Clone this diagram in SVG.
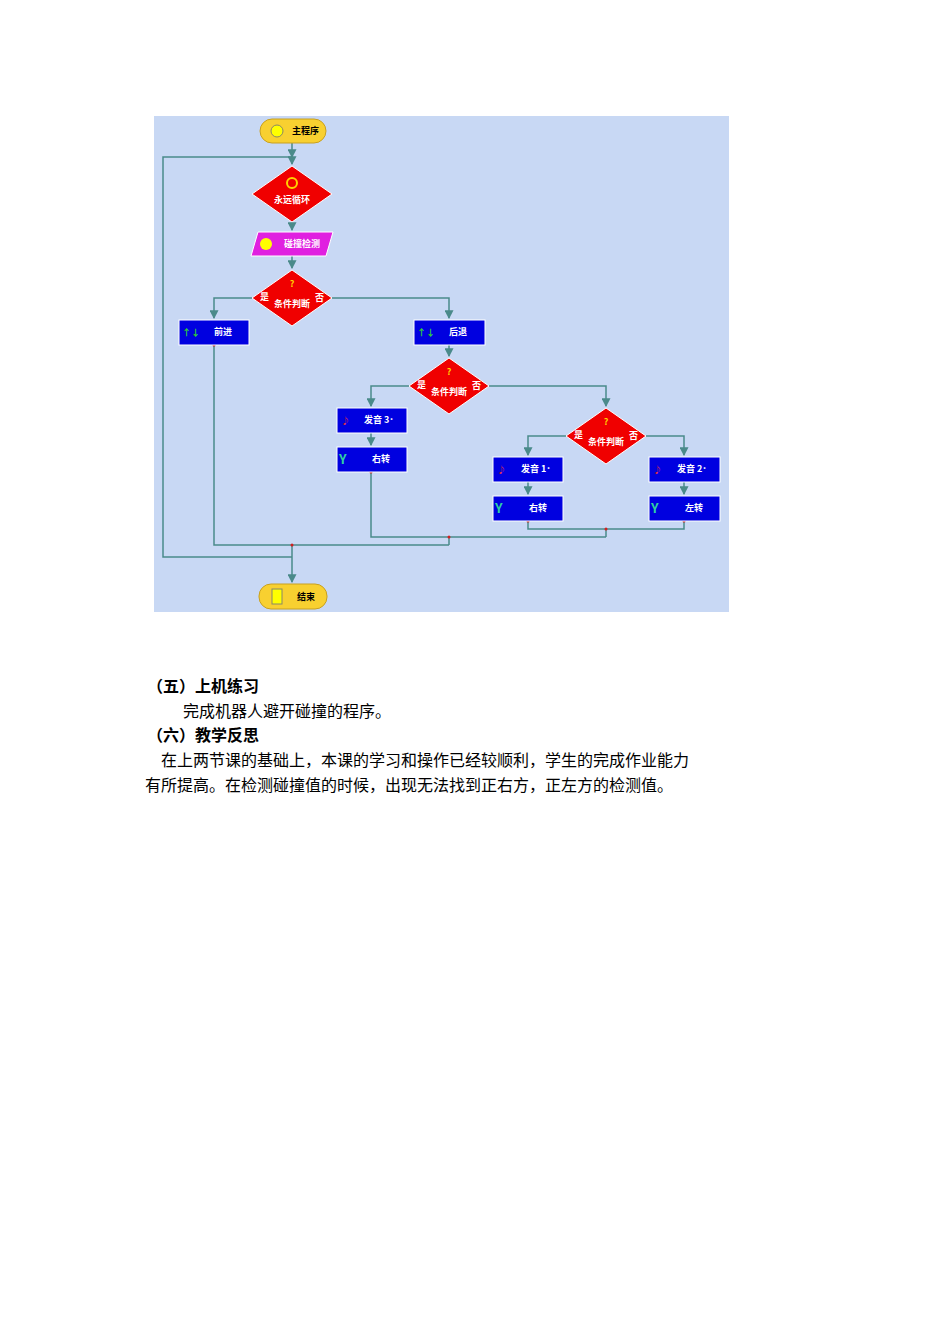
<svg xmlns="http://www.w3.org/2000/svg" width="950" height="1344" viewBox="0 0 950 1344">
<style>
.c{fill:none;stroke:#4a8a8a;stroke-width:1.5}
.box{fill:#0000e0;stroke:#fff;stroke-width:1}
.dia{fill:#f00000;stroke:#fff;stroke-width:1}
.w{fill:#fff;font-family:"Noto Sans CJK SC",sans-serif;font-size:9px;font-weight:bold}
.t{fill:#000;font-family:"Noto Sans CJK SC","Liberation Serif",serif;font-size:16px}
.tb{fill:#000;font-family:"Noto Sans CJK SC",sans-serif;font-size:16px;font-weight:bold}
.dot{fill:#d02020}
</style>
<defs><marker id="a" viewBox="0 0 8 8" refX="7" refY="4" markerWidth="6" markerHeight="6" orient="auto"><path d="M0,0L8,4L0,8z" fill="#4a8a8a"/></marker></defs>
<rect x="154" y="116" width="575" height="496" fill="#c8d8f4"/>
<g id="connectors">
<path class="c" d="M292,143V157" marker-end="url(#a)"/>
<path class="c" d="M292,557H163V157H292V164" marker-end="url(#a)"/>
<path class="c" d="M292,222V230" marker-end="url(#a)"/>
<path class="c" d="M292,256V268" marker-end="url(#a)"/>
<path class="c" d="M252,298H214V318" marker-end="url(#a)"/>
<path class="c" d="M332,298H449V318" marker-end="url(#a)"/>
<path class="c" d="M449,345V356" marker-end="url(#a)"/>
<path class="c" d="M409,386H371V406" marker-end="url(#a)"/>
<path class="c" d="M489,386H606V406" marker-end="url(#a)"/>
<path class="c" d="M371,433V445" marker-end="url(#a)"/>
<path class="c" d="M566,436H528V455" marker-end="url(#a)"/>
<path class="c" d="M646,436H684V455" marker-end="url(#a)"/>
<path class="c" d="M528,482V494" marker-end="url(#a)"/>
<path class="c" d="M684,482V494" marker-end="url(#a)"/>
<path class="c" d="M528,521V529H684V521M606,529V537"/>
<path class="c" d="M371,472V537H606M449,537V545"/>
<path class="c" d="M214,345V545H449M292,545V582" marker-end="url(#a)"/>
<circle class="dot" cx="606" cy="529" r="1.5"/><circle class="dot" cx="449" cy="537" r="1.5"/><circle class="dot" cx="292" cy="545" r="1.5"/>
<circle class="dot" cx="214" cy="345" r="1.5"/><circle class="dot" cx="371" cy="472" r="1.5"/><circle class="dot" cx="528" cy="521" r="1.5"/><circle class="dot" cx="684" cy="521" r="1.5"/>
</g>
<g id="start"><rect x="260" y="119" width="66" height="24" rx="12" fill="#f8d030" stroke="#c8a020"/><circle cx="277" cy="131" r="6" fill="#ff0" stroke="#886"/><text class="w" x="292" y="134" fill="#000" style="fill:#000">主程序</text></g>
<g id="loop"><path class="dia" d="M292,166L332,194L292,222L252,194z"/><circle cx="292" cy="183" r="5" fill="none" stroke="#ffd000" stroke-width="2"/><text class="w" x="292" y="203" text-anchor="middle">永远循环</text></g>
<g id="detect"><path d="M258,232H333L326,256H251z" fill="#e020e0" stroke="#fff"/><circle cx="266" cy="244" r="6" fill="#ff0"/><text class="w" x="284" y="247">碰撞检测</text></g>
<g id="cond1"><path class="dia" d="M292,270L332,298L292,326L252,298z"/><text class="w" x="292" y="287" text-anchor="middle" style="fill:#ffd000">?</text><text class="w" x="260" y="300">是</text><text class="w" x="315" y="301">否</text><text class="w" x="292" y="307" text-anchor="middle">条件判断</text></g>
<g id="fwd"><rect class="box" x="179" y="320" width="70" height="25"/><text class="w" x="182" y="336" style="fill:#30d030">↑↓</text><text class="w" x="214" y="335">前进</text></g>
<g id="back"><rect class="box" x="414" y="320" width="71" height="25"/><text class="w" x="417" y="336" style="fill:#30d030">↑↓</text><text class="w" x="449" y="335">后退</text></g>
<g id="cond2"><path class="dia" d="M449,358L489,386L449,414L409,386z"/><text class="w" x="449" y="375" text-anchor="middle" style="fill:#ffd000">?</text><text class="w" x="417" y="388">是</text><text class="w" x="472" y="389">否</text><text class="w" x="449" y="395" text-anchor="middle">条件判断</text></g>
<g id="s3"><rect class="box" x="337" y="408" width="70" height="25"/><text class="w" x="341" y="424" style="fill:#e03040">♪</text><text class="w" x="364" y="423">发音 3˙</text></g>
<g id="r1"><rect class="box" x="337" y="447" width="70" height="25"/><text class="w" x="339" y="464" style="fill:#30d0a0;font-size:13px">Y</text><text class="w" x="372" y="462">右转</text></g>
<g id="cond3"><path class="dia" d="M606,408L646,436L606,464L566,436z"/><text class="w" x="606" y="425" text-anchor="middle" style="fill:#ffd000">?</text><text class="w" x="574" y="438">是</text><text class="w" x="629" y="439">否</text><text class="w" x="606" y="445" text-anchor="middle">条件判断</text></g>
<g id="s1"><rect class="box" x="493" y="457" width="70" height="25"/><text class="w" x="497" y="473" style="fill:#e03040">♪</text><text class="w" x="521" y="472">发音 1˙</text></g>
<g id="r2"><rect class="box" x="493" y="496" width="70" height="25"/><text class="w" x="495" y="513" style="fill:#30d0a0;font-size:13px">Y</text><text class="w" x="529" y="511">右转</text></g>
<g id="s2"><rect class="box" x="649" y="457" width="71" height="25"/><text class="w" x="653" y="473" style="fill:#e03040">♪</text><text class="w" x="677" y="472">发音 2˙</text></g>
<g id="l1"><rect class="box" x="649" y="496" width="71" height="25"/><text class="w" x="651" y="513" style="fill:#30d0a0;font-size:13px">Y</text><text class="w" x="685" y="511">左转</text></g>
<g id="end"><rect x="259" y="584" width="68" height="25" rx="12" fill="#f8d030" stroke="#c8a020"/><rect x="272" y="589" width="10" height="15" fill="#ff0" stroke="#886"/><text class="w" x="297" y="600" style="fill:#000">结束</text></g>
<text class="tb" x="147" y="692">（五）上机练习</text>
<text class="t" x="183" y="717">完成机器人避开碰撞的程序。</text>
<text class="tb" x="147" y="741">（六）教学反思</text>
<text class="t" x="161" y="766">在上两节课的基础上，本课的学习和操作已经较顺利，学生的完成作业能力</text>
<text class="t" x="145" y="791">有所提高。在检测碰撞值的时候，出现无法找到正右方，正左方的检测值。</text>
</svg>
